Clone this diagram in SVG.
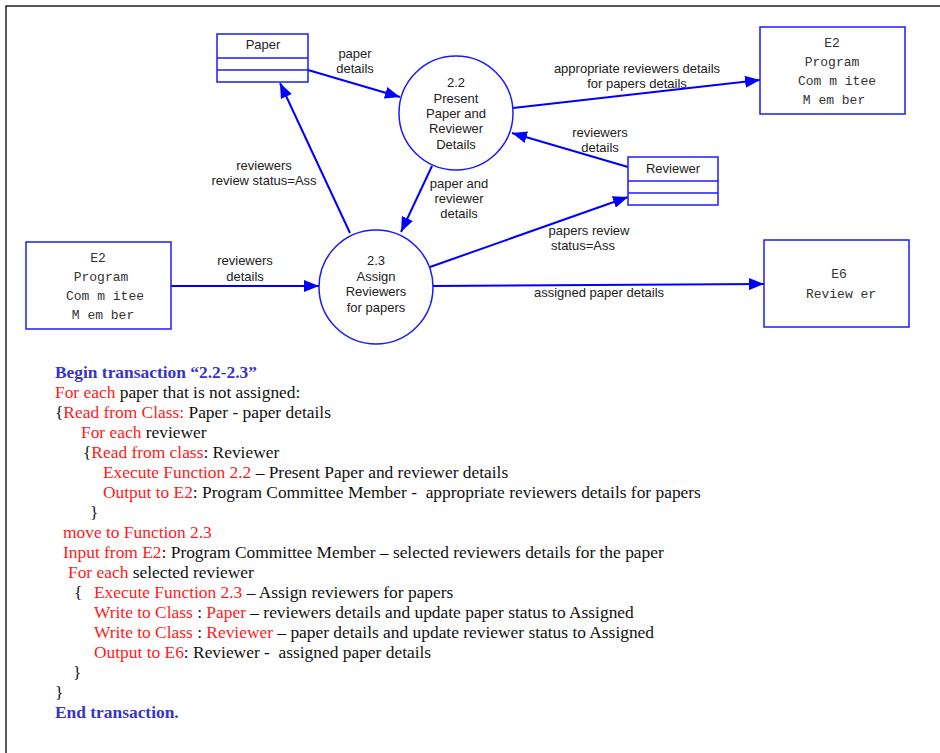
<svg xmlns="http://www.w3.org/2000/svg" width="940" height="753" viewBox="0 0 940 753">
  <style>
    .frame { fill: none; stroke: #222; stroke-width: 1.5; }
    .shape { fill: #fff; stroke: #1a1aff; stroke-width: 1.5; }
    .flow { fill: none; stroke: #0000ff; stroke-width: 2; }
    .lbl { font-family: "Liberation Sans", Arial, sans-serif; font-size: 13px; fill: #222; text-anchor: middle; }
    .ext { font-family: "Liberation Mono", "Courier New", monospace; font-size: 13px; fill: #333; text-anchor: middle; }
    .code { font-family: "Liberation Serif", "Times New Roman", serif; font-size: 17.4px; fill: #111; }
    .kw { fill: #ff1a1a; }
    .hd { fill: #3535c8; font-weight: bold; }
  </style>
  <defs>
    <marker id="arrow" markerUnits="userSpaceOnUse" markerWidth="16" markerHeight="12" refX="15" refY="6" orient="auto">
      <path d="M0,0 L15,6 L0,12 z" fill="#0000ff"/>
    </marker>
  </defs>

  <rect width="940" height="753" fill="#fff"/>
  <!-- page frame: top and left edges -->
  <polyline class="frame" points="6,753 6,6 940,6"/>

  <!-- data flows -->
  <g id="connectors">
    <line class="flow" x1="308" y1="70" x2="400" y2="97" marker-end="url(#arrow)"/>
    <line class="flow" x1="513" y1="108" x2="760" y2="80" marker-end="url(#arrow)"/>
    <line class="flow" x1="628" y1="167" x2="512" y2="133" marker-end="url(#arrow)"/>
    <line class="flow" x1="432" y1="166" x2="401" y2="232" marker-end="url(#arrow)"/>
    <line class="flow" x1="350" y1="233" x2="280" y2="83" marker-end="url(#arrow)"/>
    <line class="flow" x1="430" y1="267" x2="628" y2="197" marker-end="url(#arrow)"/>
    <line class="flow" x1="171" y1="286" x2="319" y2="286" marker-end="url(#arrow)"/>
    <line class="flow" x1="433" y1="286" x2="764" y2="284" marker-end="url(#arrow)"/>

    <text class="lbl" x="355" y="58">paper</text>
    <text class="lbl" x="355" y="73">details</text>
    <text class="lbl" x="637" y="73">appropriate reviewers details</text>
    <text class="lbl" x="637" y="88">for papers details</text>
    <text class="lbl" x="600" y="137">reviewers</text>
    <text class="lbl" x="600" y="152">details</text>
    <text class="lbl" x="459" y="188">paper and</text>
    <text class="lbl" x="459" y="203">reviewer</text>
    <text class="lbl" x="459" y="218">details</text>
    <text class="lbl" x="264" y="170">reviewers</text>
    <text class="lbl" x="264" y="185">review status=Ass</text>
    <text class="lbl" x="589" y="235">papers review</text>
    <text class="lbl" x="583" y="250">status=Ass</text>
    <text class="lbl" x="245" y="265">reviewers</text>
    <text class="lbl" x="245" y="281">details</text>
    <text class="lbl" x="599" y="297">assigned paper details</text>
  </g>

  <!-- data store: Paper -->
  <g id="store-paper">
    <rect class="shape" x="217" y="34" width="91" height="48"/>
    <line class="shape" x1="217" y1="58" x2="308" y2="58"/>
    <line class="shape" x1="217" y1="70" x2="308" y2="70"/>
    <text class="lbl" x="263" y="49">Paper</text>
  </g>

  <!-- data store: Reviewer -->
  <g id="store-reviewer">
    <rect class="shape" x="628" y="157" width="90" height="48"/>
    <line class="shape" x1="628" y1="181" x2="718" y2="181"/>
    <line class="shape" x1="628" y1="193" x2="718" y2="193"/>
    <text class="lbl" x="673" y="173">Reviewer</text>
  </g>

  <!-- process 2.2 -->
  <g id="proc-2-2">
    <circle class="shape" cx="456" cy="113" r="57"/>
    <text class="lbl" x="456" y="87">2.2</text>
    <text class="lbl" x="456" y="103">Present</text>
    <text class="lbl" x="456" y="118">Paper and</text>
    <text class="lbl" x="456" y="133">Reviewer</text>
    <text class="lbl" x="456" y="149">Details</text>
  </g>

  <!-- process 2.3 -->
  <g id="proc-2-3">
    <circle class="shape" cx="376" cy="287" r="57"/>
    <text class="lbl" x="376" y="265">2.3</text>
    <text class="lbl" x="376" y="281">Assign</text>
    <text class="lbl" x="376" y="296">Reviewers</text>
    <text class="lbl" x="376" y="312">for papers</text>
  </g>

  <!-- external entity E2 (right) -->
  <g id="ext-e2-right">
    <rect class="shape" x="760" y="27" width="145" height="87"/>
    <text class="ext" x="832" y="47">E2</text>
    <text class="ext" x="832" y="66">Program</text>
    <text class="ext" x="837" y="85">Com m itee</text>
    <text class="ext" x="834" y="104">M em ber</text>
  </g>

  <!-- external entity E2 (left) -->
  <g id="ext-e2-left">
    <rect class="shape" x="26" y="242" width="145" height="87"/>
    <text class="ext" x="98" y="262">E2</text>
    <text class="ext" x="101" y="281">Program</text>
    <text class="ext" x="105" y="300">Com m itee</text>
    <text class="ext" x="103" y="319">M em ber</text>
  </g>

  <!-- external entity E6 -->
  <g id="ext-e6">
    <rect class="shape" x="764" y="240" width="145" height="87"/>
    <text class="ext" x="839" y="278">E6</text>
    <text class="ext" x="841" y="298">Review er</text>
  </g>

  <!-- transaction description -->
  <g id="transaction" class="code">
    <text x="55" y="378" class="hd">Begin transaction “2.2-2.3”</text>
    <text x="55" y="398"><tspan class="kw">For each</tspan> paper that is not assigned:</text>
    <text x="55" y="418">{<tspan class="kw">Read from Class:</tspan> Paper - paper details</text>
    <text x="81" y="438"><tspan class="kw">For each</tspan> reviewer</text>
    <text x="83" y="458">{<tspan class="kw">Read from class</tspan>: Reviewer</text>
    <text x="103" y="478"><tspan class="kw">Execute Function 2.2</tspan> – Present Paper and reviewer details</text>
    <text x="103" y="498" xml:space="preserve"><tspan class="kw">Output to E2</tspan>: Program Committee Member -  appropriate reviewers details for papers</text>
    <text x="90" y="518">}</text>
    <text x="63" y="538" class="kw">move to Function 2.3</text>
    <text x="63" y="558"><tspan class="kw">Input from E2</tspan>: Program Committee Member – selected reviewers details for the paper</text>
    <text x="68" y="578"><tspan class="kw">For each</tspan> selected reviewer</text>
    <text x="74" y="598">{</text>
    <text x="94" y="598"><tspan class="kw">Execute Function 2.3</tspan> – Assign reviewers for papers</text>
    <text x="94" y="618"><tspan class="kw">Write to Class</tspan> : <tspan class="kw">Paper</tspan> – reviewers details and update paper status to Assigned</text>
    <text x="94" y="638"><tspan class="kw">Write to Class</tspan> : <tspan class="kw">Reviewer</tspan> – paper details and update reviewer status to Assigned</text>
    <text x="94" y="658" xml:space="preserve"><tspan class="kw">Output to E6</tspan>: Reviewer -  assigned paper details</text>
    <text x="73" y="678">}</text>
    <text x="55" y="698">}</text>
    <text x="55" y="718" class="hd">End transaction.</text>
  </g>
</svg>
